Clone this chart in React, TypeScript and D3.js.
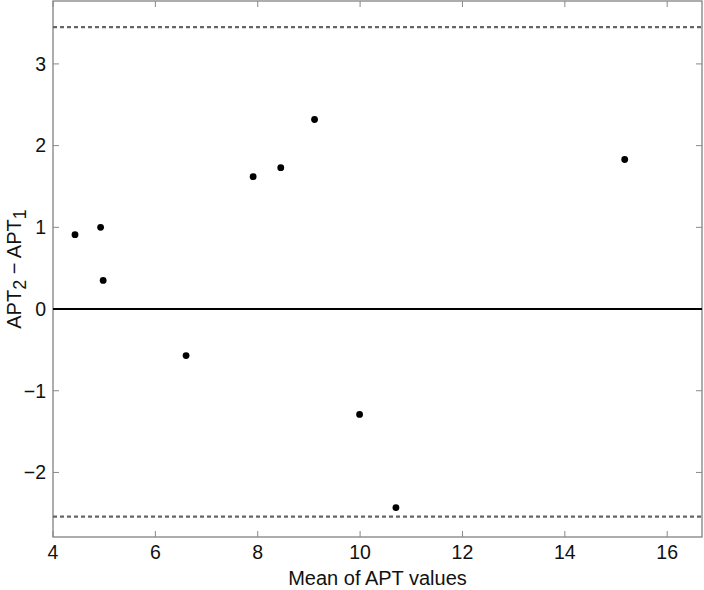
import React, { useEffect, useRef } from 'react';
import * as d3 from 'd3';

// mean of the two APT values (x) and their difference APT2 - APT1 (y)
const meanValues = [4.43, 4.93, 4.98, 6.6, 7.91, 8.45, 9.11, 9.99, 10.7, 15.17];
const diffValues = [0.91, 1.0, 0.35, -0.57, 1.62, 1.73, 2.32, -1.29, -2.43, 1.83];

// limits of agreement and bias line
const upperLimit = 3.45;
const lowerLimit = -2.54;
const biasLine = 0;

const xTicks = [4, 6, 8, 10, 12, 14, 16];
const yTicks = [-2, -1, 0, 1, 2, 3];

const App = () => {
  const svgRef = useRef<SVGSVGElement>(null);

  useEffect(() => {
    const svg = d3.select(svgRef.current);
    svg.selectAll('*').remove();

    const width = 704;
    const height = 590;
    const margin = { top: 1, right: 2, bottom: 53, left: 53 };
    const font = '"Liberation Sans", Arial, sans-serif';

    const x = d3.scaleLinear().domain([4, 16.68]).range([margin.left, width - margin.right]);
    const y = d3.scaleLinear().domain([-2.79, 3.77]).range([height - margin.bottom, margin.top]);

    const left = margin.left;
    const right = width - margin.right;
    const top = margin.top;
    const bottom = height - margin.bottom;

    // box
    svg.append('rect')
      .attr('x', left)
      .attr('y', top)
      .attr('width', right - left)
      .attr('height', bottom - top)
      .attr('fill', 'white')
      .attr('stroke', '#777')
      .attr('stroke-width', 1.2);

    // inward ticks on all four sides
    const tickLen = 6;
    xTicks.forEach(t => {
      svg.append('line').attr('x1', x(t)).attr('x2', x(t)).attr('y1', bottom).attr('y2', bottom - tickLen)
        .attr('stroke', '#888');
      svg.append('line').attr('x1', x(t)).attr('x2', x(t)).attr('y1', top).attr('y2', top + tickLen)
        .attr('stroke', '#888');
      svg.append('text')
        .attr('x', x(t))
        .attr('y', bottom + 22)
        .attr('text-anchor', 'middle')
        .attr('font-family', font)
        .attr('font-size', 19.5)
        .attr('fill', '#111')
        .text(t);
    });
    yTicks.forEach(t => {
      svg.append('line').attr('x1', left).attr('x2', left + tickLen).attr('y1', y(t)).attr('y2', y(t))
        .attr('stroke', '#888');
      svg.append('line').attr('x1', right).attr('x2', right - tickLen).attr('y1', y(t)).attr('y2', y(t))
        .attr('stroke', '#888');
      svg.append('text')
        .attr('x', left - 7)
        .attr('y', y(t))
        .attr('dy', '0.35em')
        .attr('text-anchor', 'end')
        .attr('font-family', font)
        .attr('font-size', 19.5)
        .attr('fill', '#111')
        .text(t < 0 ? `\u2212${Math.abs(t)}` : t);
    });

    // limits of agreement (dashed)
    [upperLimit, lowerLimit].forEach(v => {
      svg.append('line')
        .attr('x1', left)
        .attr('x2', right)
        .attr('y1', y(v))
        .attr('y2', y(v))
        .attr('stroke', '#666')
        .attr('stroke-width', 2.2)
        .attr('stroke-dasharray', '4,3');
    });

    // bias line
    svg.append('line')
      .attr('x1', left)
      .attr('x2', right)
      .attr('y1', y(biasLine))
      .attr('y2', y(biasLine))
      .attr('stroke', 'black')
      .attr('stroke-width', 2);

    // points
    svg.selectAll('.pt')
      .data(meanValues.map((m, i) => ({ m, d: diffValues[i] })))
      .enter()
      .append('circle')
      .attr('class', 'pt')
      .attr('cx', d => x(d.m))
      .attr('cy', d => y(d.d))
      .attr('r', 3.4)
      .attr('fill', 'black');

    // x label
    svg.append('text')
      .attr('x', (left + right) / 2)
      .attr('y', 585)
      .attr('text-anchor', 'middle')
      .attr('font-family', font)
      .attr('font-size', 20)
      .attr('fill', '#111')
      .text('Mean of APT values');

    // y label with subscripts
    const yl = svg.append('text')
      .attr('transform', `translate(21,${(top + bottom) / 2}) rotate(-90)`)
      .attr('text-anchor', 'middle')
      .attr('font-family', font)
      .attr('font-size', 20)
      .attr('fill', '#111');
    yl.append('tspan').text('APT');
    yl.append('tspan').attr('dy', 5).attr('font-size', 18).text('2');
    yl.append('tspan').attr('dy', -5).text(' \u2212 APT');
    yl.append('tspan').attr('dy', 5).attr('font-size', 18).text('1');
  }, []);

  return (
    <svg
      ref={svgRef}
      width={704}
      height={590}
      style={{ position: 'absolute', left: 0, top: 0, background: 'white' }}
    ></svg>
  );
};

export default App;
